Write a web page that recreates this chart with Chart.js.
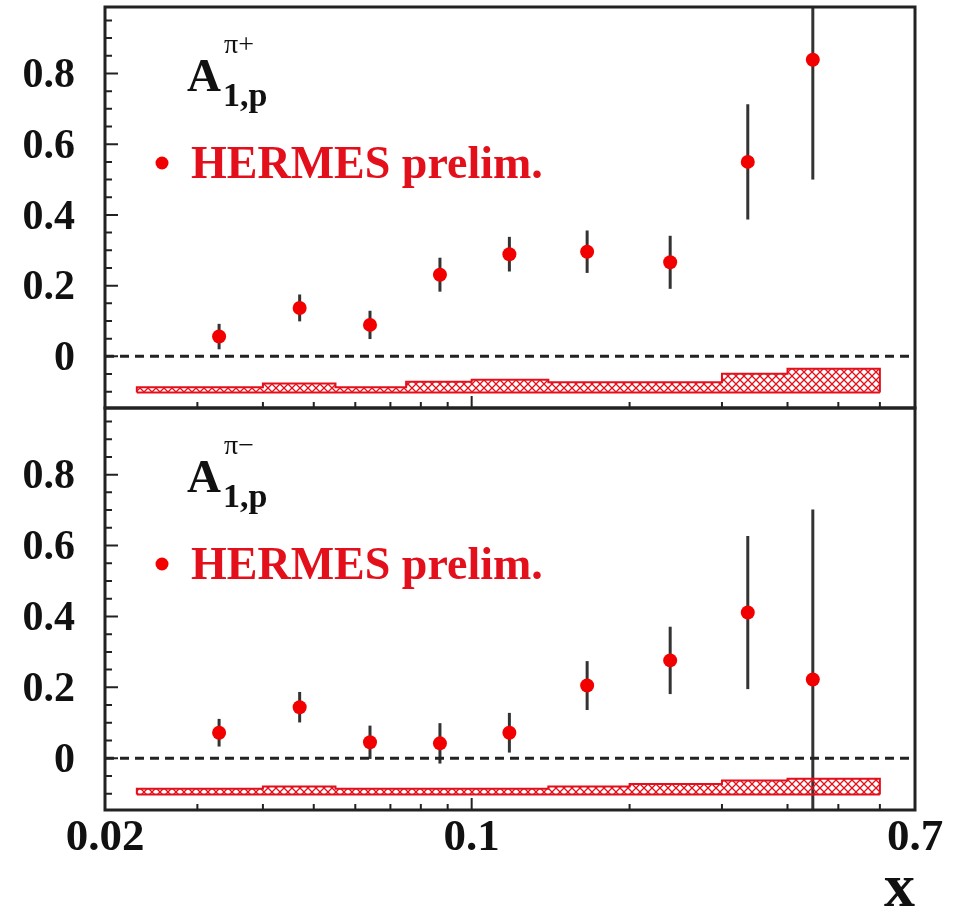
<!DOCTYPE html>
<html>
<head>
<meta charset="utf-8">
<script src="https://cdn.jsdelivr.net/npm/chart.js@4.4.1/dist/chart.umd.min.js"></script>
<style>
  html, body { margin: 0; padding: 0; background: #fff; }
  #wrap { position: relative; width: 961px; height: 915px; }
  #wrap canvas { position: absolute; left: 0; top: 0; }
</style>
</head>
<body>
<div id="wrap">
  <canvas id="topChart" width="961" height="915"></canvas>
  <canvas id="botChart" width="961" height="915"></canvas>
</div>
<script>
// bin centres in x (same for both panels)
const xBins = [0.033, 0.047, 0.064, 0.087, 0.118, 0.166, 0.239, 0.336, 0.447];

// A1,p pi+ (upper panel)
const a1PiPlus    = [0.056, 0.137, 0.089, 0.231, 0.289, 0.296, 0.266, 0.550, 0.839];
const a1PiPlusErr = [0.036, 0.038, 0.040, 0.048, 0.049, 0.060, 0.075, 0.163, 0.339];

// A1,p pi- (lower panel)
const a1PiMinus    = [0.072, 0.144, 0.045, 0.042, 0.072, 0.205, 0.276, 0.411, 0.222];
const a1PiMinusErr = [0.039, 0.043, 0.047, 0.057, 0.056, 0.069, 0.095, 0.216, 0.480];

// systematic error band: bin edges, baseline, top per bin
const sysEdges    = [0.023, 0.04, 0.055, 0.075, 0.1, 0.14, 0.2, 0.3, 0.4, 0.6];
const sysBase     = -0.102;
const sysTopPlus  = [-0.087, -0.077, -0.087, -0.072, -0.066, -0.073, -0.073, -0.049, -0.035];
const sysTopMinus = [-0.086, -0.080, -0.086, -0.086, -0.086, -0.080, -0.073, -0.063, -0.058];

// axes
const xRange = [0.02, 0.7];
const yRange = [-0.146, 0.988];
const xLabelTicks = [0.02, 0.1, 0.7];
const xLabelText  = ['0.02', '0.1', '0.7'];
const xMinorTicks = [0.03, 0.04, 0.05, 0.06, 0.07, 0.08, 0.09, 0.2, 0.3, 0.4, 0.5, 0.6];
const yLabelTicks = [0, 0.2, 0.4, 0.6, 0.8];
const yLabelText  = ['0', '0.2', '0.4', '0.6', '0.8'];

const RED = '#f20000';
const TXT_RED = '#e3101c';
const SERIF = '"Liberation Serif", "Times New Roman", serif';

const hatch = (() => {
    const c = document.createElement('canvas');
    c.width = 8; c.height = 8;
    const g = c.getContext('2d');
    g.strokeStyle = TXT_RED;
    g.lineWidth = 1.3;
    g.beginPath();
    g.moveTo(0, 0); g.lineTo(8, 8);
    g.moveTo(8, 0); g.lineTo(0, 8);
    g.stroke();
    return g.createPattern(c, 'repeat');
})();

const makeChart = (id, vals, errs, sysTop, sign, isBottom) => {

    // band outline as a step line, closed at both ends down to the baseline
    const bandTop = [{x: sysEdges[0], y: sysBase}];
    sysTop.forEach((t, i) => bandTop.push({x: sysEdges[i], y: t}));
    bandTop.push({x: sysEdges[sysEdges.length - 1], y: sysTop[sysTop.length - 1]});
    bandTop.push({x: sysEdges[sysEdges.length - 1], y: sysBase});

    const panelPlugin = {
        id: 'panel' + id,
        beforeDatasetsDraw(chart) {
            // error bars, under the markers
            const {ctx, chartArea: a, scales: {x, y}} = chart;
            ctx.save();
            ctx.beginPath();
            ctx.rect(a.left, a.top, a.width, a.height);
            ctx.clip();
            ctx.strokeStyle = '#333';
            ctx.lineWidth = 3;
            vals.forEach((v, i) => {
                const px = x.getPixelForValue(xBins[i]);
                ctx.beginPath();
                ctx.moveTo(px, y.getPixelForValue(v - errs[i]));
                ctx.lineTo(px, y.getPixelForValue(v + errs[i]));
                ctx.stroke();
            });
            ctx.restore();
        },
        afterDraw(chart) {
            const {ctx, chartArea: a, scales: {x, y}} = chart;
            ctx.save();
            ctx.strokeStyle = '#222';
            ctx.lineWidth = 2;
            ctx.beginPath();
            // y ticks inside the frame, minor every 0.05
            for (let i = -2; i <= 19; i++) {
                const py = y.getPixelForValue(i * 0.05);
                const len = i % 4 === 0 ? 13 : 7;
                ctx.moveTo(a.left, py);
                ctx.lineTo(a.left + len, py);
            }
            // x ticks pointing up from the bottom edge
            xMinorTicks.forEach(v => {
                const px = x.getPixelForValue(v);
                ctx.moveTo(px, a.bottom);
                ctx.lineTo(px, a.bottom - 6);
            });
            const p1 = x.getPixelForValue(0.1);
            ctx.moveTo(p1, a.bottom);
            ctx.lineTo(p1, a.bottom - 12);
            ctx.stroke();

            ctx.lineWidth = 3;
            ctx.strokeRect(a.left, a.top, a.width, a.height);

            // labels
            ctx.fillStyle = '#111';
            ctx.textBaseline = 'alphabetic';
            ctx.font = 'bold 47px ' + SERIF;
            ctx.fillText('A', 187, a.top + 84);
            ctx.font = 'bold 34px ' + SERIF;
            ctx.fillText('1,p', 223, a.top + 99);
            ctx.font = '28px ' + SERIF;
            ctx.fillText('\u03c0' + sign, 224, a.top + 46);

            ctx.fillStyle = RED;
            ctx.beginPath();
            ctx.arc(162, a.top + 156, 6.5, 0, Math.PI * 2);
            ctx.fill();
            ctx.fillStyle = TXT_RED;
            ctx.font = 'bold 46px ' + SERIF;
            ctx.fillText('HERMES prelim.', 191, a.top + 171);
            ctx.restore();
        }
    };

    return new Chart(document.getElementById(id), {
        type: 'line',
        data: {
            datasets: [{
                label: 'HERMES prelim.',
                data: xBins.map((x, i) => ({x, y: vals[i]})),
                showLine: false,
                pointRadius: 7,
                pointBackgroundColor: RED,
                pointBorderWidth: 0,
            }, {
                label: 'zero',
                data: xRange.map(x => ({x, y: 0})),
                borderColor: '#222',
                borderWidth: 3,
                borderDash: [9, 6],
                pointRadius: 0,
            }, {
                label: 'sys base',
                data: sysEdges.map(x => ({x, y: sysBase})),
                borderColor: TXT_RED,
                borderWidth: 2,
                pointRadius: 0,
            }, {
                label: 'sys',
                data: bandTop,
                stepped: true,
                fill: '-1',
                backgroundColor: hatch,
                borderColor: TXT_RED,
                borderWidth: 2,
                pointRadius: 0,
            }]
        },
        options: {
            responsive: false,
            animation: false,
            events: [],
            layout: {
                padding: isBottom ? {top: 408, bottom: 0, left: 0, right: 46}
                                  : {top: 6, bottom: 507, left: 0, right: 46}
            },
            plugins: {legend: {display: false}, tooltip: {enabled: false}},
            scales: {
                x: {
                    type: 'logarithmic',
                    min: xRange[0],
                    max: xRange[1],
                    display: isBottom,
                    grid: {display: false, drawTicks: false},
                    border: {display: false},
                    afterBuildTicks: s => { s.ticks = xLabelTicks.map(value => ({value})); },
                    afterFit: s => { s.height = isBottom ? 105 : 0; },
                    ticks: {
                        autoSkip: false,
                        maxRotation: 0,
                        padding: 1,
                        color: '#111',
                        font: {family: SERIF, size: 45, weight: 'bold'},
                        callback: v => xLabelText[xLabelTicks.indexOf(v)],
                    },
                    title: {
                        display: true,
                        text: 'x',
                        align: 'end',
                        color: '#111',
                        padding: 0,
                        font: {family: SERIF, size: 62, weight: 'bold', lineHeight: 0.8},
                    },
                },
                y: {
                    min: yRange[0],
                    max: yRange[1],
                    grid: {display: false, drawTicks: false},
                    border: {display: false},
                    afterBuildTicks: s => { s.ticks = yLabelTicks.map(value => ({value})); },
                    afterFit: s => { s.width = 105; s.paddingTop = 0; s.paddingBottom = 0; },
                    ticks: {
                        padding: 30,
                        labelOffset: 3,
                        color: '#111',
                        font: {family: SERIF, size: 42, weight: 'bold'},
                        callback: v => yLabelText[yLabelTicks.indexOf(v)],
                    },
                },
            },
        },
        plugins: [panelPlugin],
    });
};

makeChart('topChart', a1PiPlus, a1PiPlusErr, sysTopPlus, '+', false);
makeChart('botChart', a1PiMinus, a1PiMinusErr, sysTopMinus, '\u2212', true);
</script>
</body>
</html>
